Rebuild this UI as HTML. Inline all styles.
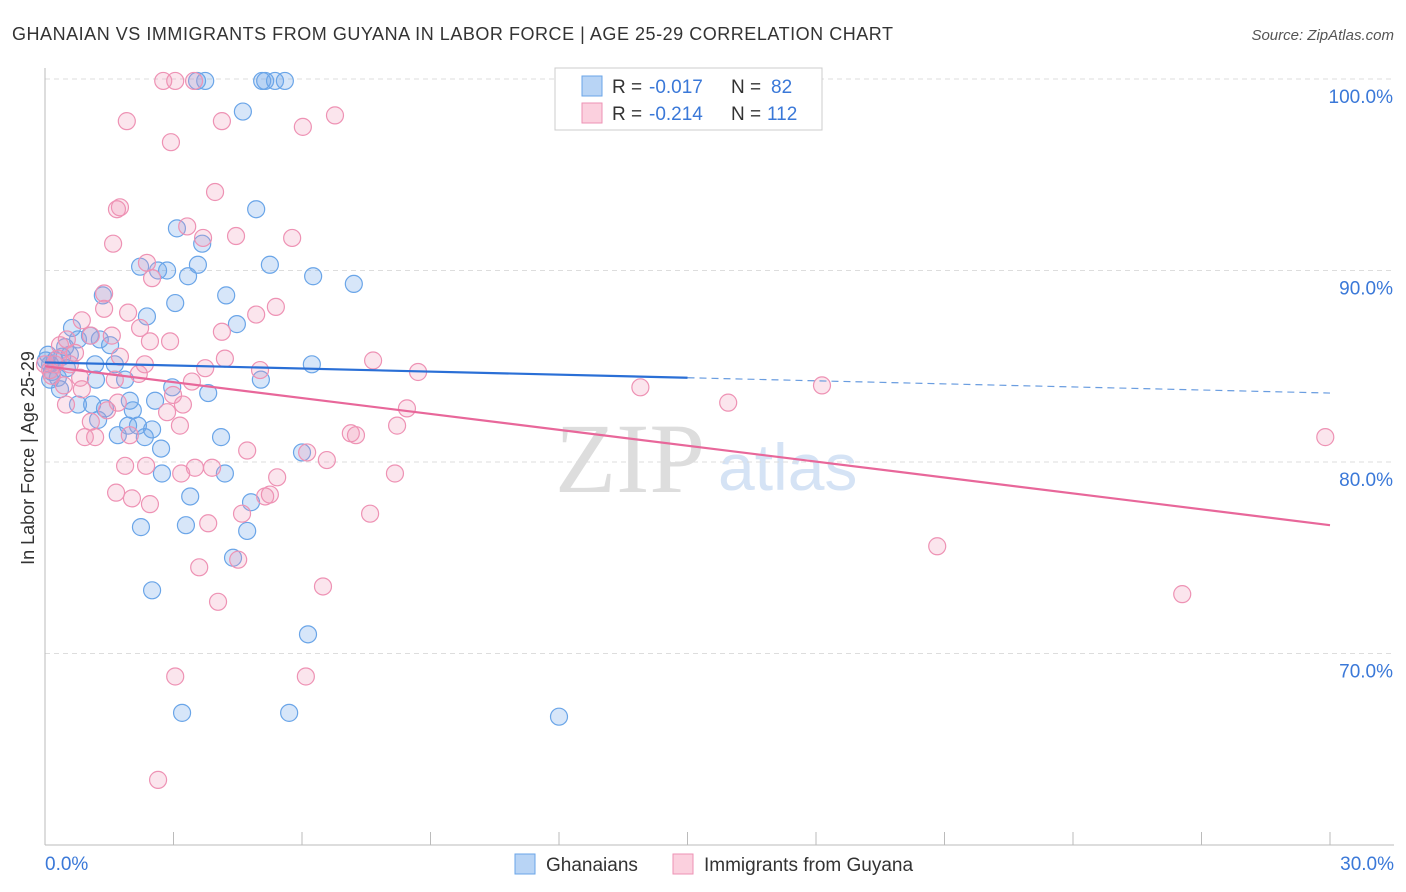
<!DOCTYPE html>
<html><head><meta charset="utf-8"><style>
body{margin:0;background:#fff;font-family:"Liberation Sans",sans-serif}
svg{display:block}
</style></head><body>
<svg id="chart" width="1406" height="892" xmlns="http://www.w3.org/2000/svg">
<text x="12" y="40" font-size="18" fill="#333" textLength="881" lengthAdjust="spacing">GHANAIAN VS IMMIGRANTS FROM GUYANA IN LABOR FORCE | AGE 25-29 CORRELATION CHART</text>
<text x="1394" y="40" font-size="15" fill="#555" font-style="italic" text-anchor="end">Source: ZipAtlas.com</text>
<text transform="translate(34,458) rotate(-90)" font-size="18" fill="#333" text-anchor="middle">In Labor Force | Age 25-29</text>
<text x="555" y="492" font-size="100" fill="#ddd" font-family="Liberation Serif">ZIP</text>
<text x="718" y="490" font-size="66" fill="#d5e3f5">atlas</text>
<g id="grid"></g><g id="axes"></g><g id="pts"></g><g id="trends"></g>
<g>
<rect x="555" y="68" width="267" height="62" fill="#fff" stroke="#ccc"/>
<rect x="582" y="76" width="20" height="20" fill="#b8d4f5" stroke="#6aa5e8"/>
<rect x="582" y="103" width="20" height="20" fill="#fbd0de" stroke="#ee92b4"/>
<text x="612" y="93" font-size="19" fill="#333">R =</text>
<text x="649" y="93" font-size="19" fill="#3a78d8">-0.017</text>
<text x="731" y="93" font-size="19" fill="#333">N =</text>
<text x="771" y="93" font-size="19" fill="#3a78d8">82</text>
<text x="612" y="120" font-size="19" fill="#333">R =</text>
<text x="649" y="120" font-size="19" fill="#3a78d8">-0.214</text>
<text x="731" y="120" font-size="19" fill="#333">N =</text>
<text x="767" y="120" font-size="19" fill="#3a78d8">112</text>
</g>
<g>
<rect x="515" y="854" width="20" height="20" fill="#b8d4f5" stroke="#6aa5e8"/>
<text x="546" y="871" font-size="19" fill="#333">Ghanaians</text>
<rect x="673" y="854" width="20" height="20" fill="#fbd0de" stroke="#ee92b4"/>
<text x="704" y="871" font-size="19" fill="#333">Immigrants from Guyana</text>
</g>
</svg>
<script>
const blueX=[3.74,3.55,5.07,5.14,5.37,5.60,4.62,4.93,3.08,3.67,2.22,2.64,2.85,3.57,3.34,5.25,6.26,7.21,1.35,4.23,3.04,2.38,4.48,0.63,1.05,0.77,0.47,1.28,1.52,0.40,0.58,0.23,0.12,0.16,0.30,0.35,1.17,1.63,1.87,1.19,2.97,3.81,2.57,1.98,2.05,0.77,1.10,1.40,1.24,1.94,2.17,2.50,2.33,1.70,2.71,4.11,6.00,2.73,4.20,6.23,5.04,3.39,4.81,3.29,2.24,4.72,4.39,2.50,6.14,3.20,5.70,12.0,0.02,0.07,0.12,0.51];
const blueY=[99.9,99.9,99.9,99.9,99.9,99.9,98.3,93.2,92.2,91.4,90.2,90.0,90.0,90.3,89.7,90.3,89.7,89.3,88.7,88.7,88.3,87.6,87.2,87.0,86.6,86.4,86.0,86.4,86.1,85.5,85.6,85.3,85.1,84.7,84.4,83.8,85.1,85.1,84.3,84.3,83.9,83.6,83.2,83.2,82.7,83.0,83.0,82.8,82.2,81.9,81.9,81.7,81.3,81.4,80.7,81.3,80.5,79.4,79.4,85.1,84.3,78.2,77.9,76.7,76.6,76.4,75.0,73.3,71.0,66.9,66.9,66.7,85.3,85.6,84.3,84.9];
const pinkX=[2.76,3.04,3.48,1.91,4.13,6.02,6.77,2.94,3.97,1.75,1.68,3.32,3.69,4.46,5.77,1.59,2.38,2.50,1.38,1.38,5.39,4.93,1.94,0.86,2.22,4.13,1.56,1.07,2.92,2.45,0.35,0.70,1.75,4.20,7.66,0.23,0.58,2.33,3.74,5.02,8.71,0.16,0.82,1.63,3.43,2.19,0.44,0.86,13.9,18.14,2.99,15.95,1.70,0.49,1.45,3.22,8.45,2.85,1.07,3.15,8.22,0.93,1.17,1.98,7.14,7.26,4.72,6.12,6.58,1.87,2.36,3.50,3.90,3.18,8.17,5.42,1.66,2.03,5.14,5.25,2.45,4.60,7.59,3.81,29.89,20.83,3.60,4.51,6.49,4.04,26.55,3.04,6.09,2.64,0.0,0.12,0.30,0.51];
const pinkY=[99.9,99.9,99.9,97.8,97.8,97.5,98.1,96.7,94.1,93.3,93.2,92.3,91.7,91.8,91.7,91.4,90.4,89.6,88.8,88.0,88.1,87.7,87.8,87.4,87.0,86.8,86.6,86.6,86.3,86.3,86.1,85.7,85.5,85.4,85.3,85.1,85.1,85.1,84.9,84.8,84.7,84.5,84.4,84.3,84.2,84.6,84.0,83.8,83.9,84.0,83.5,83.1,83.1,83.0,82.7,83.0,82.8,82.6,82.1,81.9,81.9,81.3,81.3,81.4,81.5,81.4,80.6,80.5,80.1,79.8,79.8,79.7,79.7,79.4,79.4,79.2,78.4,78.1,78.2,78.3,77.8,77.3,77.3,76.8,81.3,75.6,74.5,74.9,73.5,72.7,73.1,68.8,68.8,63.4,85.1,84.8,85.4,86.4];
const blueTrend=[85.2,83.6];
const pinkTrend=[85.0,76.7];
const yTicks=[100,90,80,70];
const xTickLabels=["0.0%","30.0%"];

const NS="http://www.w3.org/2000/svg";
function X(v){return 45+(v/30)*1285;}
function Y(v){return 79+(100-v)*19.15;}
function mk(tag,attrs,parent){const e=document.createElementNS(NS,tag);for(const k in attrs)e.setAttribute(k,attrs[k]);parent.appendChild(e);return e;}
const grid=document.getElementById('grid'),axes=document.getElementById('axes'),pts=document.getElementById('pts'),tr=document.getElementById('trends');
yTicks.forEach(t=>{
  const l=mk('line',{x1:45,x2:1394,y1:Y(t),y2:Y(t),stroke:'#ddd','stroke-dasharray':'5,4'},grid);
  
  
  const tx=mk('text',{x:1393,y:Y(t)+24,'font-size':19,fill:'#3a78d8','text-anchor':'end'},axes);
  tx.textContent=t.toFixed(1)+'%';
  
  
});
const ya=mk('line',{x1:45,x2:45,y1:68,y2:845,stroke:'#bbb'},axes);


const xa=mk('line',{x1:45,x2:1394,y1:845,y2:845,stroke:'#bbb'},axes);


for(let i=0;i<=10;i++){
  const tk=mk('line',{x1:X(i*3),x2:X(i*3),y1:832,y2:845,stroke:'#bbb'},axes);
  
  
}
[[0,'start'],[30,'end']].forEach((p,i)=>{
  const t=mk('text',{x:i?1394:45,y:870,'font-size':19,fill:'#3a78d8','text-anchor':p[1]},axes);
  t.textContent=xTickLabels[i];
  
  
});
function dots(xs,ys,fill,stroke,name){
  xs.forEach((x,i)=>{
    const c=mk('circle',{cx:X(x),cy:Y(ys[i]),r:8.5,fill:fill,stroke:stroke,'stroke-width':1.2},pts);
    
    
  });
}
dots(blueX,blueY,'rgba(110,165,232,0.28)','#6aa5e8','ghanaian-point');
dots(pinkX,pinkY,'rgba(240,150,185,0.25)','#ee92b4','guyana-point');
const bm=(blueTrend[0]+blueTrend[1])/2;
const b1=mk('line',{x1:X(0),y1:Y(blueTrend[0]),x2:X(15),y2:Y(bm),stroke:'#2a6fd6','stroke-width':2.2},tr);


const b2=mk('line',{x1:X(15),y1:Y(bm),x2:X(30),y2:Y(blueTrend[1]),stroke:'#6a9de0','stroke-width':1.2,'stroke-dasharray':'7,5'},tr);


const p1=mk('line',{x1:X(0),y1:Y(pinkTrend[0]),x2:X(30),y2:Y(pinkTrend[1]),stroke:'#e8679a','stroke-width':2.2},tr);


</script>
</body></html>
